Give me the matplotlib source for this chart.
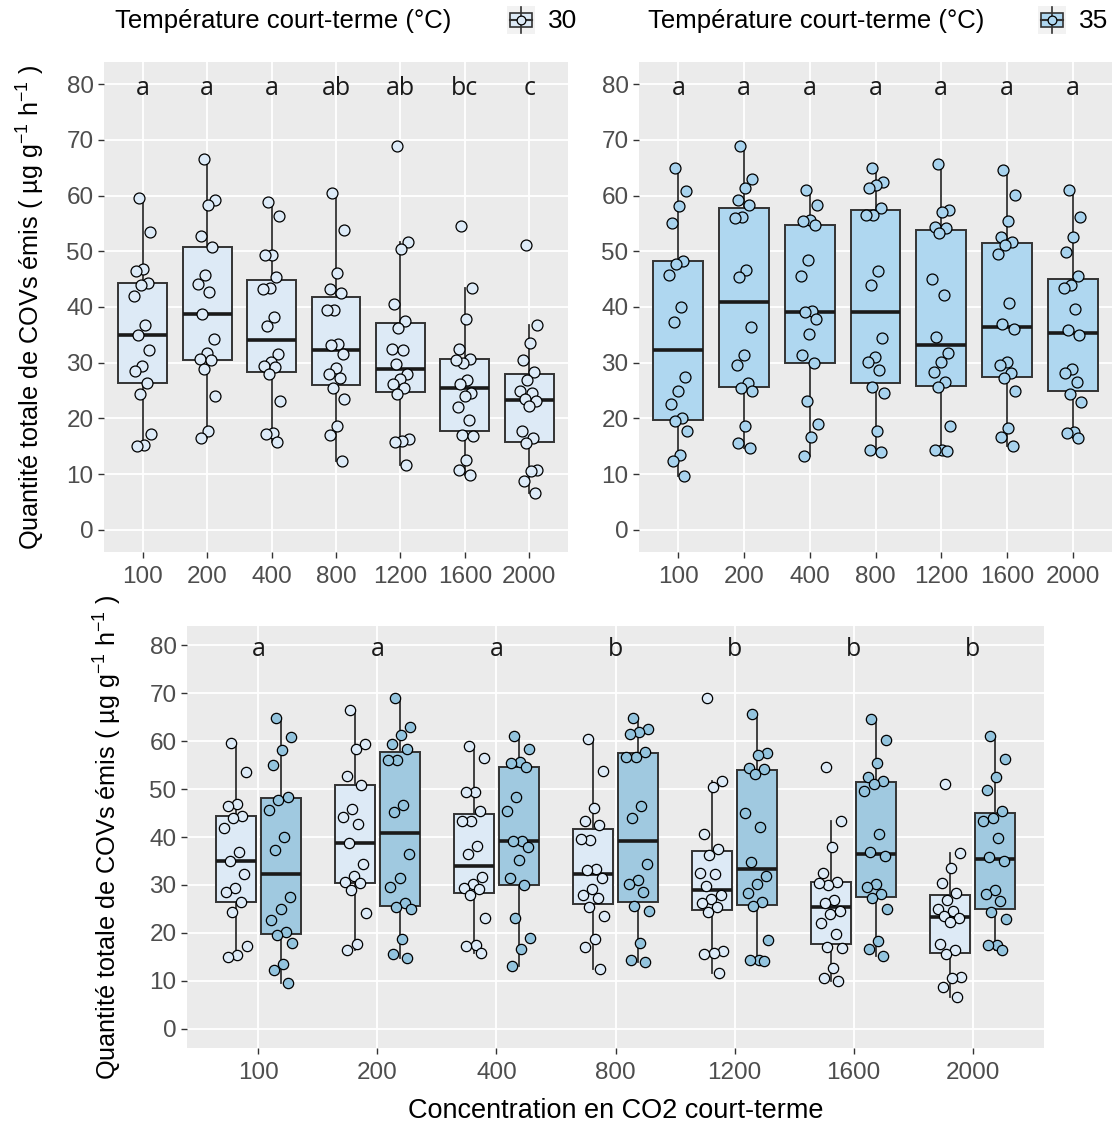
import matplotlib
matplotlib.use("Agg")
import matplotlib.pyplot as plt
import numpy as np
from matplotlib.patches import Rectangle

plt.rcParams['font.family'] = ['Liberation Sans', 'DejaVu Sans']
plt.rcParams['mathtext.fontset'] = 'custom'
plt.rcParams['mathtext.rm'] = 'Liberation Sans'
plt.rcParams['mathtext.it'] = 'Liberation Sans:italic'
plt.rcParams['mathtext.bf'] = 'Liberation Sans:bold'

# data
co2_levels = ['100', '200', '400', '800', '1200', '1600', '2000']

t30_100 = [59.6, 53.5, 46.9, 46.4, 44.3, 44.0, 41.9, 36.8, 34.9, 32.3, 29.4, 28.5, 26.4, 24.4, 17.2, 15.3, 15.0]
t30_200 = [66.5, 59.3, 58.3, 52.8, 50.8, 45.8, 44.2, 42.7, 38.8, 34.3, 31.8, 30.7, 30.4, 28.9, 24.1, 17.7, 16.5]
t30_400 = [58.9, 56.4, 49.4, 49.4, 45.4, 43.4, 43.3, 38.2, 36.5, 31.6, 30.1, 29.4, 29.2, 28.0, 23.1, 17.4, 17.2, 15.8]
t30_800 = [60.5, 53.8, 46.1, 43.3, 42.5, 39.4, 39.5, 33.4, 33.1, 31.5, 29.1, 27.9, 27.3, 25.5, 23.5, 18.7, 17.0, 12.4]
t30_1200 = [68.9, 51.6, 50.4, 40.6, 37.4, 36.2, 32.5, 32.2, 29.8, 28.0, 27.0, 26.2, 25.5, 24.4, 16.3, 15.9, 15.7, 11.7]
t30_1600 = [54.5, 43.4, 37.9, 32.4, 30.7, 30.0, 30.5, 26.8, 26.2, 24.6, 24.0, 22.0, 19.7, 17.0, 16.9, 12.6, 10.7, 9.9]
t30_2000 = [51.1, 36.7, 33.6, 30.4, 28.3, 26.8, 24.9, 24.6, 23.5, 23.1, 22.2, 17.7, 16.5, 15.5, 10.8, 10.5, 8.8, 6.6]

t35_100 = [64.9, 60.8, 58.1, 55.1, 48.3, 47.8, 45.7, 40.0, 37.3, 27.4, 24.9, 22.6, 20.1, 19.6, 17.8, 13.5, 12.3, 9.6]
t35_200 = [68.9, 62.9, 61.3, 59.3, 58.3, 56.1, 56.0, 46.7, 45.3, 36.4, 31.4, 29.6, 26.3, 25.5, 24.9, 18.7, 15.6, 14.7]
t35_400 = [61.0, 58.3, 55.6, 55.5, 54.7, 48.4, 45.5, 39.2, 39.1, 37.9, 35.2, 31.4, 30.0, 23.1, 19.0, 16.6, 13.2]
t35_800 = [64.9, 62.5, 61.9, 61.4, 57.7, 56.6, 56.6, 46.5, 43.9, 34.4, 31.0, 30.1, 28.6, 25.6, 24.6, 17.8, 14.4, 13.9]
t35_1200 = [65.6, 57.5, 57.1, 54.3, 54.1, 53.2, 45.1, 42.1, 34.7, 31.8, 30.1, 28.3, 26.5, 25.7, 18.6, 14.4, 14.3, 14.1]
t35_1600 = [64.6, 60.2, 55.4, 52.6, 51.7, 51.1, 49.6, 40.7, 36.9, 36.0, 30.1, 29.5, 28.1, 27.2, 24.9, 18.3, 16.6, 15.1]
t35_2000 = [61.0, 56.2, 52.5, 49.9, 45.5, 43.9, 43.4, 39.7, 35.9, 34.9, 28.9, 28.2, 26.6, 24.4, 22.9, 17.5, 17.4, 16.5]

letters_30 = ['a', 'a', 'a', 'ab', 'ab', 'bc', 'c']
letters_35 = ['a', 'a', 'a', 'a', 'a', 'a', 'a']
letters_all = ['a', 'a', 'a', 'b', 'b', 'b', 'b']

groups_30 = [t30_100, t30_200, t30_400, t30_800, t30_1200, t30_1600, t30_2000]
groups_35 = [t35_100, t35_200, t35_400, t35_800, t35_1200, t35_1600, t35_2000]

# styling
PANEL_BG = '#EBEBEB'
FILL_30 = '#DDEAF6'
FILL_35 = '#AFD7F0'
FILL_35_B = '#A0C9E0'
PT_30 = '#DDEBF8'
PT_35 = '#A8D3EE'
PT_35_B = '#93C4DE'
EDGE = '#333333'
TICK_COL = '#4D4D4D'
YLABEL = r'Quantité totale de COVs émis ( µg g$^{-1}$ h$^{-1}$ )'
LETTER_FONT = ['Open Sans', 'DejaVu Sans']

fig = plt.figure(figsize=(11.19, 11.28), dpi=100)


def style_axes(ax):
    ax.set_facecolor(PANEL_BG)
    for s in ax.spines.values():
        s.set_visible(False)
    ax.grid(True, color='white', linewidth=1.3)
    ax.set_axisbelow(True)
    ax.set_ylim(-4, 84)
    ax.set_yticks(np.arange(0, 81, 10))
    ax.set_xlim(0.4, 7.6)
    ax.set_xticks(np.arange(1, 8))
    ax.set_xticklabels(co2_levels)
    ax.tick_params(axis='both', colors=EDGE, length=4, width=1,
                   labelsize=17.5, labelcolor=TICK_COL)
    ax.tick_params(axis='x', pad=6)


def jitter(n, amp):
    k = np.arange(n)
    return ((k * 0.618034 + 0.3) % 1 - 0.5) * 2 * amp


def draw_boxes(ax, groups, pos_shift, width, fill, pt_fill, amp, ms):
    pos = np.arange(1, 8) + pos_shift
    ax.boxplot(groups, positions=pos, widths=width, patch_artist=True,
               showfliers=False, showcaps=False, whis=1.5,
               boxprops=dict(facecolor=fill, edgecolor=EDGE, linewidth=1.4),
               whiskerprops=dict(color=EDGE, linewidth=1.3),
               medianprops=dict(color='#1A1A1A', linewidth=2.6),
               manage_ticks=False, zorder=2)
    for p, vals in zip(pos, groups):
        xs = p + jitter(len(vals), amp)
        ax.scatter(xs, vals, s=ms, facecolor=pt_fill, edgecolor='black',
                   linewidth=0.9, zorder=3)


def add_letters(ax, letters):
    for i, lab in enumerate(letters):
        ax.text(i + 1, 79.2, lab, ha='center', va='center', fontsize=18,
                color='#1A1A1A', family=LETTER_FONT)


def legend_key(x0, y0, fill, label):
    kax = fig.add_axes([x0 / 1119, 1 - (y0 + 28) / 1128, 28 / 1119, 28 / 1128])
    kax.set_facecolor('#F2F2F2')
    kax.set_xlim(0, 1)
    kax.set_ylim(0, 1)
    kax.set_xticks([])
    kax.set_yticks([])
    for s in kax.spines.values():
        s.set_visible(False)
    kax.plot([0.5, 0.5], [0.05, 0.95], color=EDGE, lw=1.2)
    kax.add_patch(Rectangle((0.12, 0.25), 0.76, 0.5, facecolor=fill,
                            edgecolor=EDGE, lw=1.2))
    kax.plot([0.12, 0.88], [0.5, 0.5], color=EDGE, lw=1.5)
    kax.scatter([0.5], [0.5], s=40, facecolor=fill, edgecolor='black', lw=0.9, zorder=3)
    fig.text((x0 + 41) / 1119, 1 - (y0 + 15) / 1128, label, fontsize=19,
             va='center', ha='left', color='black')


# top left: 30 degC
ax1 = fig.add_axes([104 / 1119, 1 - 552 / 1128, 464 / 1119, 490 / 1128])
style_axes(ax1)
draw_boxes(ax1, groups_30, 0, 0.76, FILL_30, PT_30, 0.14, 62)
add_letters(ax1, letters_30)
ax1.set_ylabel(YLABEL, fontsize=18.2)
ax1.yaxis.set_label_coords(-0.122, 0.5)

# top right: 35 degC
ax2 = fig.add_axes([639 / 1119, 1 - 552 / 1128, 473 / 1119, 490 / 1128])
style_axes(ax2)
draw_boxes(ax2, groups_35, 0, 0.76, FILL_35, PT_35, 0.14, 62)
add_letters(ax2, letters_35)

# bottom: both temperatures
ax3 = fig.add_axes([187 / 1119, 1 - 1048 / 1128, 857 / 1119, 422 / 1128])
style_axes(ax3)
draw_boxes(ax3, groups_30, -0.19, 0.34, FILL_30, PT_30, 0.1, 55)
draw_boxes(ax3, groups_35, 0.19, 0.34, FILL_35_B, PT_35_B, 0.1, 55)
add_letters(ax3, letters_all)
ax3.set_ylabel(YLABEL, fontsize=18.2)
ax3.yaxis.set_label_coords(-0.074, 0.5)
ax3.set_xlabel('Concentration en CO2 court-terme', fontsize=19.5, labelpad=10)

# legends
fig.text(115 / 1119, 1 - 21 / 1128, 'Température court-terme (°C)', fontsize=18.5, va='center')
legend_key(507, 6, FILL_30, '30')
fig.text(648 / 1119, 1 - 21 / 1128, 'Température court-terme (°C)', fontsize=18.5, va='center')
legend_key(1038, 6, FILL_35, '35')

fig.savefig('out.png', dpi=100)
